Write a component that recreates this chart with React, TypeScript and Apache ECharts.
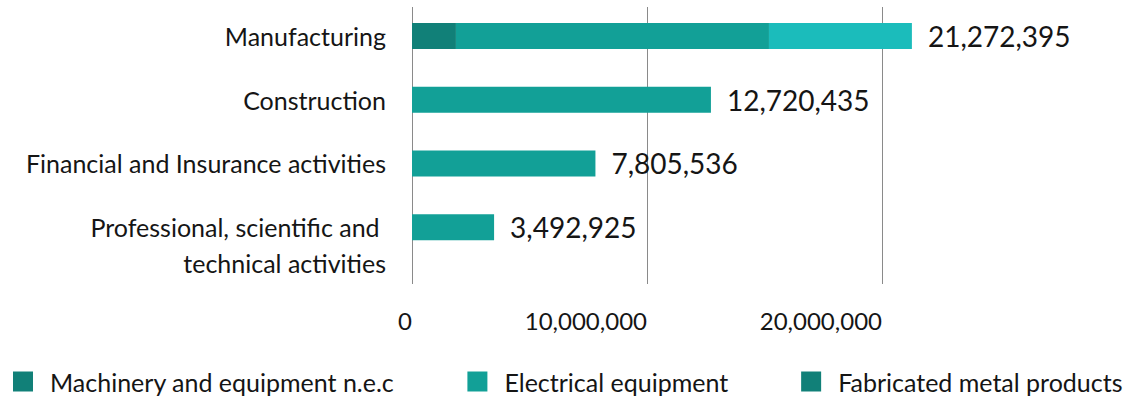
import React, { useEffect, useRef } from "react";
import * as echarts from "echarts";

const categories = [
  "Manufacturing",
  "Construction",
  "Financial and Insurance activities",
  "Professional, scientific and \ntechnical activities",
];
const seriesNames = ["Machinery and equipment n.e.c", "Electrical equipment", "Fabricated metal products"];
const machinery = [1870000, 0, 0, 0];
const electrical = [13320000, 12720435, 7805536, 3492925];
const fabricated = [6082395, 0, 0, 0];
const totals = [21272395, 12720435, 7805536, 3492925];
const xTicks = [0, 10000000, 20000000];

const FONT = "Lato, 'Noto Sans', sans-serif";
const WEIGHT = 400;
const DARK = "#118078";
const MID = "#12a097";
const LIGHT = "#1bbcbb";

const fmt = (v: number) => v.toLocaleString("en-US");

export default function App() {
  const ref = useRef<HTMLDivElement>(null);
  useEffect(() => {
    document.body.style.margin = "0";
    const chart = echarts.init(ref.current!, null, { renderer: "svg" });
    const xMax = 30000000;
    chart.setOption({
      animation: false,
      textStyle: { fontFamily: FONT },
      grid: [
        { left: 412, right: 24, top: 4, height: 255, containLabel: false },
        { left: 412, right: 24, top: 7, height: 277, containLabel: false },
      ],
      legend: {
        left: 13,
        top: 369,
        padding: 0,
        itemWidth: 20,
        itemHeight: 20,
        itemGap: 73,
        icon: "rect",
        textStyle: { fontSize: 25, fontWeight: WEIGHT, color: "#151515", fontFamily: FONT, padding: [0, 0, 0, 12] },
        data: [
          { name: seriesNames[0], itemStyle: { color: DARK } },
          { name: seriesNames[1], itemStyle: { color: MID } },
          { name: seriesNames[2], itemStyle: { color: DARK } },
        ],
      },
      xAxis: [
        { type: "value", gridIndex: 0, min: 0, max: xMax, interval: 10000000, show: false },
        {
          type: "value",
          gridIndex: 1,
          min: 0,
          max: xMax,
          interval: 10000000,
          axisLine: { show: false },
          axisTick: { show: false },
          splitLine: {
            show: true,
            lineStyle: { color: ["#8a8a8a", "#8a8a8a", "#8a8a8a", "rgba(0,0,0,0)"], width: 1 },
          },
          axisLabel: {
            fontSize: 24,
            fontWeight: WEIGHT,
            color: "#151515",
            fontFamily: FONT,
            margin: 24,
            align: "right",
            showMaxLabel: false,
            formatter: (v: number) => (xTicks.includes(v) ? fmt(v) : ""),
          },
        },
      ],
      yAxis: [
        {
          type: "category",
          gridIndex: 0,
          inverse: true,
          data: categories,
          axisLine: { show: false },
          axisTick: { show: false },
          axisLabel: {
            fontSize: 25,
            fontWeight: WEIGHT,
            color: "#151515",
            fontFamily: FONT,
            margin: 26,
            lineHeight: 36,
            interval: 0,
            hideOverlap: false,
            formatter: (v: string) => (v.includes("\n") ? "\n" + v : v),
          },
        },
        { type: "value", gridIndex: 1, show: false },
      ],
      series: [
        {
          name: seriesNames[0],
          type: "bar",
          stack: "s",
          xAxisIndex: 0,
          yAxisIndex: 0,
          barWidth: 26,
          itemStyle: { color: DARK },
          data: machinery,
        },
        {
          name: seriesNames[1],
          type: "bar",
          stack: "s",
          xAxisIndex: 0,
          yAxisIndex: 0,
          barWidth: 26,
          itemStyle: { color: MID },
          data: electrical,
        },
        {
          name: seriesNames[2],
          type: "bar",
          stack: "s",
          xAxisIndex: 0,
          yAxisIndex: 0,
          barWidth: 26,
          itemStyle: { color: LIGHT },
          data: fabricated,
          label: {
            show: true,
            position: "right",
            distance: 16,
            fontSize: 28,
            fontWeight: WEIGHT,
            color: "#151515",
            fontFamily: FONT,
            formatter: (p: any) => fmt(totals[p.dataIndex]),
          },
        },
      ],
    });
    return () => chart.dispose();
  }, []);
  return <div ref={ref} style={{ width: 1141, height: 401 }} />;
}
